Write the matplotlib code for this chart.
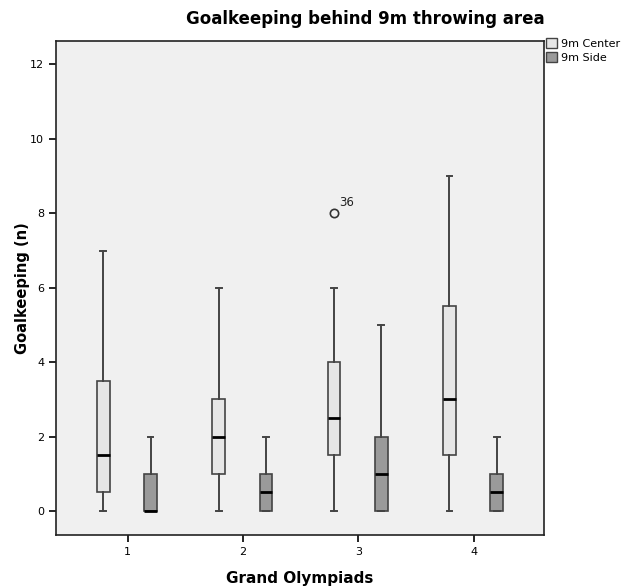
import matplotlib
matplotlib.use("Agg")
from matplotlib import pyplot as plt
from matplotlib.patches import Patch

# Data (five-number summaries per box)
groups = [1, 2, 3, 4]
series_names = ['9m Center', '9m Side']
center_whislo = [0, 0, 0, 0]
center_q1 = [0.5, 1, 1.5, 1.5]
center_med = [1.5, 2, 2.5, 3]
center_q3 = [3.5, 3, 4, 5.5]
center_whishi = [7, 6, 6, 9]
center_fliers = [[], [], [8], []]
side_whislo = [0, 0, 0, 0]
side_q1 = [0, 0, 0, 0]
side_med = [0, 0.5, 1, 0.5]
side_q3 = [1, 1, 2, 1]
side_whishi = [2, 2, 5, 2]
side_fliers = [[], [], [], []]
outlier_labels = {(2, 8): '36'}  # (group index, value) -> case id

colors = ['#e6e6e6', '#9a9a9a']


def make_stats(lo, q1, med, q3, hi, fl):
    return [dict(whislo=a, q1=b, med=c, q3=d, whishi=e, fliers=f)
            for a, b, c, d, e, f in zip(lo, q1, med, q3, hi, fl)]


fig = plt.figure(figsize=(6.25, 5.88), dpi=100)
ax = fig.add_axes([0.0896, 0.0901, 0.7808, 0.8402])
ax.set_facecolor('#f0f0f0')

stats = [make_stats(center_whislo, center_q1, center_med, center_q3, center_whishi, center_fliers),
         make_stats(side_whislo, side_q1, side_med, side_q3, side_whishi, side_fliers)]
offsets = [-0.21, 0.2]

for s, off, col in zip(stats, offsets, colors):
    pos = [g + off for g in groups]
    ax.bxp(s, positions=pos, widths=0.11, patch_artist=True, manage_ticks=False,
           capwidths=0.05,
           boxprops=dict(facecolor=col, edgecolor='#444444', linewidth=1.2),
           whiskerprops=dict(color='#444444', linewidth=1.4),
           capprops=dict(color='#444444', linewidth=1.4),
           medianprops=dict(color='black', linewidth=2),
           flierprops=dict(marker='o', markerfacecolor='none', markeredgecolor='#333333',
                           markersize=6, markeredgewidth=1.2))

for (gi, val), lbl in outlier_labels.items():
    ax.annotate(lbl, (groups[gi] + offsets[0], val), xytext=(4, 5),
                textcoords='offset points', fontsize=8.5, color='#222222')

ax.set_xlim(0.38, 4.61)
ax.set_ylim(-0.645, 12.63)
ax.set_xticks(groups)
ax.set_yticks([0, 2, 4, 6, 8, 10, 12])
ax.tick_params(labelsize=8, length=5, width=1.2, colors='black')
for sp in ax.spines.values():
    sp.set_linewidth(1.2)
    sp.set_color('#222222')

ax.set_xlabel('Grand Olympiads', fontsize=11, fontweight='bold', labelpad=10)
ax.set_ylabel('Goalkeeping (n)', fontsize=10.5, fontweight='bold')
ax.yaxis.set_label_coords(-0.053, 0.5)
fig.text(0.584, 0.967, 'Goalkeeping behind 9m throwing area', ha='center', va='center',
         fontsize=12, fontweight='bold')

handles = [Patch(facecolor=c, edgecolor='#444444', label=n) for c, n in zip(colors, series_names)]
fig.legend(handles=handles, loc='upper left', bbox_to_anchor=(0.874, 0.935), frameon=False,
           fontsize=8, handlelength=1.0, handleheight=1.0, handletextpad=0.3,
           labelspacing=0.25, borderaxespad=0, borderpad=0)

fig.savefig('out.png', dpi=100)
